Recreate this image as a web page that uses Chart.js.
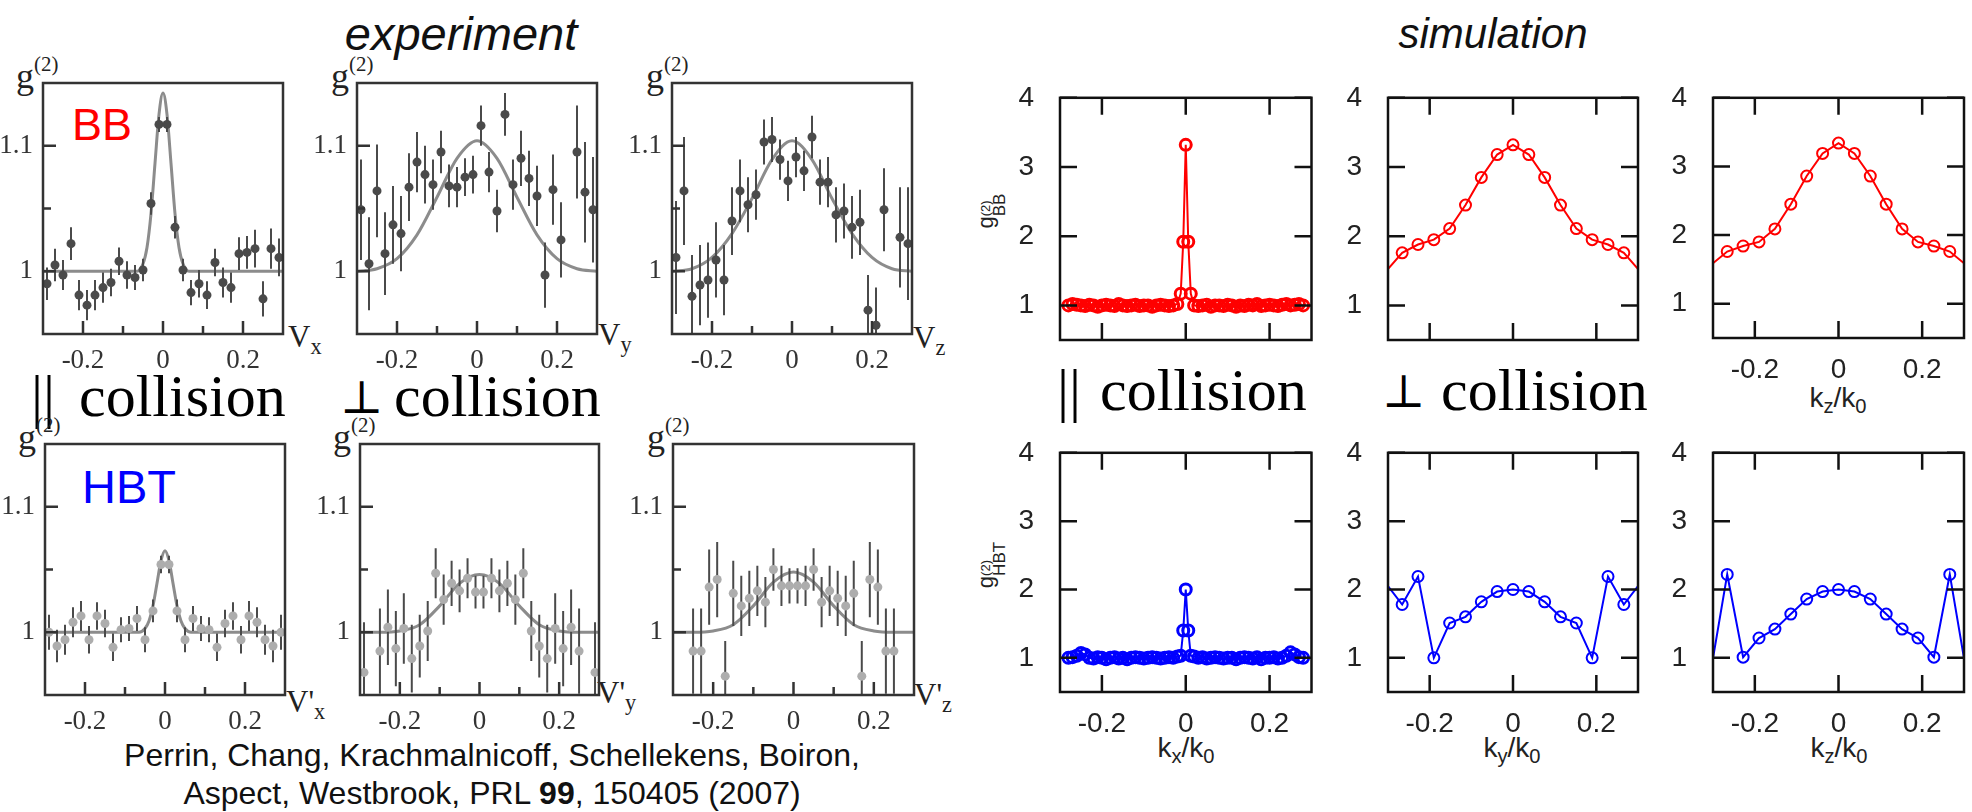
<!DOCTYPE html>
<html>
<head>
<meta charset="utf-8">
<script src="https://cdn.jsdelivr.net/npm/chart.js@4.4.0/dist/chart.umd.min.js"></script>
<style>
  html, body { margin: 0; padding: 0; background: #fff; }
  body { width: 1972px; height: 812px; position: relative; overflow: hidden; }
  canvas { position: absolute; }
  .t { position: absolute; white-space: nowrap; line-height: 1; }
  .serif { font-family: 'Liberation Serif', 'DejaVu Serif', serif; color: #222; }
  .sans { font-family: 'Liberation Sans', 'DejaVu Sans', sans-serif; color: #222; }
  .serif sup { font-size: 0.58em; vertical-align: 0.8em; line-height: 0; }
  .serif sub, .sans sub { font-size: 0.72em; vertical-align: -0.3em; line-height: 0; }
  .rot { transform: translate(-50%, -50%) rotate(-90deg); font-size: 22px; }
  .stack { display: inline-block; vertical-align: -0.55em; line-height: 0.95; }
  .stack span { display: block; }
  .perp { width: 40px; text-align: center; font-family: 'DejaVu Serif', serif; }
</style>
</head>
<body>

<div class="t sans" style="left:461px;top:10px;font-size:47px;font-style:italic;color:#111;transform:translateX(-50%)">experiment</div>
<div class="t sans" style="left:1493px;top:13px;font-size:42px;font-style:italic;color:#111;transform:translateX(-50%)">simulation</div>

<div class="t serif" style="left:31px;top:366px;font-size:60px;color:#000">||</div>
<div class="t serif" style="left:79px;top:366px;font-size:60px;color:#000">collision</div>
<div class="t perp" style="left:340px;top:374px;font-size:46px;color:#000">&#8869;</div>
<div class="t serif" style="left:394px;top:366px;font-size:60px;color:#000">collision</div>
<div class="t serif" style="left:1057px;top:360px;font-size:60px;color:#000">||</div>
<div class="t serif" style="left:1100px;top:360px;font-size:60px;color:#000">collision</div>
<div class="t perp" style="left:1382px;top:368px;font-size:46px;color:#000">&#8869;</div>
<div class="t serif" style="left:1441px;top:360px;font-size:60px;color:#000">collision</div>

<div class="t sans" style="left:72px;top:102px;font-size:45px;color:#ff0000">BB</div>
<div class="t sans" style="left:82px;top:463px;font-size:47px;color:#0000ff">HBT</div>

<div class="t serif" style="left:16px;top:58px;font-size:36px">g<sup>(2)</sup></div>
<div class="t serif" style="left:331px;top:58px;font-size:36px">g<sup>(2)</sup></div>
<div class="t serif" style="left:646px;top:58px;font-size:36px">g<sup>(2)</sup></div>
<div class="t serif" style="left:18px;top:419px;font-size:36px">g<sup>(2)</sup></div>
<div class="t serif" style="left:333px;top:419px;font-size:36px">g<sup>(2)</sup></div>
<div class="t serif" style="left:647px;top:419px;font-size:36px">g<sup>(2)</sup></div>

<div class="t serif" style="left:288px;top:321px;font-size:31px">V<sub>x</sub></div>
<div class="t serif" style="left:598px;top:319px;font-size:31px">V<sub>y</sub></div>
<div class="t serif" style="left:913px;top:322px;font-size:31px">V<sub>z</sub></div>
<div class="t serif" style="left:286px;top:686px;font-size:31px">V'<sub>x</sub></div>
<div class="t serif" style="left:597px;top:677px;font-size:31px">V'<sub>y</sub></div>
<div class="t serif" style="left:914px;top:679px;font-size:31px">V'<sub>z</sub></div>

<div class="t sans rot" style="left:992px;top:211px">g<span class="stack"><span style="font-size:13px">(2)</span><span style="font-size:17px">BB</span></span></div>
<div class="t sans rot" style="left:992px;top:565px">g<span class="stack"><span style="font-size:13px">(2)</span><span style="font-size:17px">HBT</span></span></div>

<div class="t sans" style="left:1838px;top:384px;font-size:28px;transform:translateX(-50%)">k<sub>z</sub>/k<sub>0</sub></div>
<div class="t sans" style="left:1186px;top:734px;font-size:28px;transform:translateX(-50%)">k<sub>x</sub>/k<sub>0</sub></div>
<div class="t sans" style="left:1512px;top:734px;font-size:28px;transform:translateX(-50%)">k<sub>y</sub>/k<sub>0</sub></div>
<div class="t sans" style="left:1839px;top:734px;font-size:28px;transform:translateX(-50%)">k<sub>z</sub>/k<sub>0</sub></div>

<div class="t sans" style="left:492px;top:736px;font-size:32px;line-height:38px;text-align:center;color:#111;transform:translateX(-50%)">Perrin, Chang, Krachmalnicoff, Schellekens, Boiron,<br>Aspect, Westbrook, PRL <b>99</b>, 150405 (2007)</div>

<script>
// experiment: bin centres (V) shared by all six panels
const expX = [-0.29, -0.27, -0.25, -0.23, -0.21, -0.19, -0.17, -0.15, -0.13, -0.11,
              -0.09, -0.07, -0.05, -0.03, -0.01, 0.01, 0.03, 0.05, 0.07, 0.09,
              0.11, 0.13, 0.15, 0.17, 0.19, 0.21, 0.23, 0.25, 0.27, 0.29];

// back-to-back (top row)
const bbVx = [0.990, 1.005, 0.997, 1.022, 0.981, 0.973, 0.981, 0.987, 0.991, 1.008,
              0.997, 0.995, 1.001, 1.054, 1.117, 1.117, 1.035, 1.001, 0.983, 0.990,
              0.981, 1.007, 0.991, 0.987, 1.014, 1.015, 1.018, 0.978, 1.018, 1.011];
const bbVxErr = [0.013, 0.013, 0.012, 0.013, 0.012, 0.012, 0.012, 0.012, 0.011, 0.011,
                 0.011, 0.010, 0.009, 0.009, 0.006, 0.006, 0.009, 0.009, 0.010, 0.011,
                 0.011, 0.011, 0.012, 0.012, 0.013, 0.013, 0.015, 0.014, 0.016, 0.015];
const bbVy = [1.049, 1.006, 1.064, 1.014, 1.037, 1.030, 1.067, 1.087, 1.077, 1.069,
              1.095, 1.068, 1.067, 1.075, 1.077, 1.116, 1.079, 1.048, 1.125, 1.069,
              1.090, 1.074, 1.060, 0.997, 1.065, 1.025, null, 1.095, 1.063, 1.049];
const bbVyErr = [0.040, 0.037, 0.037, 0.033, 0.031, 0.030, 0.027, 0.024, 0.023, 0.020,
                 0.017, 0.017, 0.016, 0.015, 0.015, 0.016, 0.016, 0.017, 0.017, 0.020,
                 0.022, 0.022, 0.024, 0.026, 0.028, 0.030, null, 0.037, 0.040, 0.042];
const bbVz = [1.011, 1.064, 0.980, 0.989, 0.993, 1.009, 0.993, 1.040, 1.064, 1.053,
              1.061, 1.103, 1.105, 1.089, 1.072, 1.091, 1.080, 1.107, 1.071, 1.071,
              1.045, 1.048, 1.035, 1.039, 0.969, 0.957, 1.049, null, 1.027, 1.022];
const bbVzErr = [0.045, 0.043, 0.033, 0.032, 0.030, 0.030, 0.028, 0.027, 0.025, 0.022,
                 0.020, 0.018, 0.018, 0.016, 0.016, 0.016, 0.016, 0.017, 0.018, 0.020,
                 0.022, 0.022, 0.025, 0.026, 0.028, 0.030, 0.033, null, 0.040, 0.045];

// collinear / HBT (bottom row)
const hbtVx = [1.000, 0.989, 0.994, 1.008, 1.013, 0.994, 1.013, 1.007, 0.988, 1.002,
               1.003, 1.011, 0.994, 1.017, 1.054, 1.054, 1.017, 0.994, 1.011, 1.003,
               1.002, 0.988, 1.007, 1.013, 0.994, 1.013, 1.008, 0.994, 0.989, 1.000];
const hbtVxErr = [0.014, 0.013, 0.012, 0.012, 0.012, 0.011, 0.011, 0.011, 0.011, 0.010,
                  0.010, 0.010, 0.010, 0.009, 0.007, 0.007, 0.009, 0.010, 0.010, 0.010,
                  0.010, 0.011, 0.011, 0.011, 0.011, 0.012, 0.012, 0.012, 0.013, 0.014];
const hbtVy = [0.968, null, 0.985, 1.004, 0.987, 1.003, 0.979, 0.989, 1.001, 1.047,
               1.026, 1.039, 1.033, 1.043, 1.032, 1.032, 1.043, 1.033, 1.039, 1.026,
               1.047, 1.001, 0.989, 0.979, 1.003, 0.987, 1.004, 0.985, null, 0.968];
const hbtVyErr = [0.040, null, 0.034, 0.030, 0.030, 0.028, 0.027, 0.025, 0.024, 0.020,
                  0.020, 0.018, 0.017, 0.016, 0.013, 0.013, 0.016, 0.017, 0.018, 0.020,
                  0.020, 0.024, 0.025, 0.027, 0.028, 0.030, 0.030, 0.034, null, 0.040];
const hbtVz = [null, null, 0.985, 0.985, 1.036, 1.042, 0.965, 1.031, 1.021, 1.027,
               1.033, 1.024, 1.050, 1.037, 1.037, 1.037, 1.037, 1.050, 1.024, 1.033,
               1.027, 1.021, 1.031, 0.965, 1.042, 1.036, 0.985, 0.985, null, null];
const hbtVzErr = [null, null, 0.034, 0.034, 0.030, 0.030, 0.028, 0.026, 0.024, 0.022,
                  0.020, 0.020, 0.017, 0.016, 0.014, 0.014, 0.016, 0.017, 0.020, 0.020,
                  0.022, 0.024, 0.026, 0.028, 0.030, 0.030, 0.034, 0.034, null, null];

// fitted curves
const fitNarrowX = [-0.3, -0.065, -0.05, -0.04, -0.03, -0.02, -0.01, 0, 0.01, 0.02, 0.03, 0.04, 0.05, 0.065, 0.3];
const fitBBx  = [1, 1, 1.006, 1.019, 1.046, 1.086, 1.125, 1.142, 1.125, 1.086, 1.046, 1.019, 1.006, 1, 1];
const fitHBTx = [1, 1, 1.003, 1.009, 1.021, 1.039, 1.057, 1.065, 1.057, 1.039, 1.021, 1.009, 1.003, 1, 1];
const fitWideX = [-0.3, -0.25, -0.2, -0.15, -0.1, -0.05, 0, 0.05, 0.1, 0.15, 0.2, 0.25, 0.3];
const fitBBy  = [1, 1.002, 1.010, 1.029, 1.059, 1.090, 1.104, 1.090, 1.059, 1.029, 1.010, 1.002, 1];
const fitBBz  = [1, 1.002, 1.011, 1.030, 1.058, 1.089, 1.104, 1.089, 1.058, 1.030, 1.011, 1.002, 1];
const fitHBTy = [1, 1, 1.001, 1.006, 1.021, 1.039, 1.046, 1.039, 1.021, 1.006, 1.001, 1, 1];
const fitHBTz = [1, 1, 1.001, 1.006, 1.021, 1.040, 1.048, 1.040, 1.021, 1.006, 1.001, 1, 1];

// simulation
const kxX = [-0.28, -0.27, -0.26, -0.25, -0.24, -0.23, -0.22, -0.21, -0.2, -0.19, -0.18, -0.17, -0.16, -0.15,
             -0.14, -0.13, -0.12, -0.11, -0.1, -0.09, -0.08, -0.07, -0.06, -0.05, -0.04, -0.03, -0.02,
             -0.012, -0.006, 0, 0.006, 0.012,
             0.02, 0.03, 0.04, 0.05, 0.06, 0.07, 0.08, 0.09, 0.1, 0.11, 0.12, 0.13, 0.14,
             0.15, 0.16, 0.17, 0.18, 0.19, 0.2, 0.21, 0.22, 0.23, 0.24, 0.25, 0.26, 0.27, 0.28];
const bbKx = [1.0, 1.02, 1.01, 1.0, 0.99, 1.01, 1.0, 0.98, 1.0, 1.01, 1.0, 0.99, 1.02, 1.0,
              0.99, 1.0, 1.01, 0.99, 1.0, 1.0, 0.98, 1.0, 1.01, 1.0, 0.99, 1.0, 1.02,
              1.17, 1.92, 3.32, 1.92, 1.17,
              1.0, 0.99, 1.0, 1.01, 0.98, 1.0, 1.0, 0.99, 1.01, 1.0, 0.98, 1.0, 0.99,
              1.01, 1.0, 1.02, 0.99, 1.0, 1.01, 1.0, 0.99, 1.01, 1.02, 1.0, 1.01, 1.02, 1.0];
const hbtKx = [1.0, 1.01, 1.03, 1.07, 1.05, 1.0, 0.99, 1.01, 1.0, 0.98, 1.0, 1.01, 0.99, 1.0,
               0.98, 1.0, 1.01, 1.0, 0.99, 1.0, 1.01, 1.0, 0.99, 1.0, 1.01, 1.0, 1.02,
               1.03, 1.40, 2.0, 1.40, 1.03,
               1.02, 1.0, 1.01, 0.99, 1.0, 1.01, 1.0, 0.99, 1.0, 1.0, 0.98, 1.0, 1.01,
               1.0, 0.99, 1.01, 0.98, 1.0, 1.0, 1.01, 0.99, 1.0, 1.03, 1.08, 1.05, 1.01, 1.0];
const kX = [-0.304, -0.266, -0.228, -0.19, -0.152, -0.114, -0.076, -0.038, 0,
            0.038, 0.076, 0.114, 0.152, 0.19, 0.228, 0.266, 0.304];
const bbKy  = [1.50, 1.76, 1.88, 1.95, 2.11, 2.45, 2.85, 3.18, 3.32, 3.18, 2.85, 2.45, 2.11, 1.95, 1.88, 1.76, 1.50];
const bbKz  = [1.57, 1.76, 1.84, 1.90, 2.09, 2.45, 2.86, 3.19, 3.34, 3.19, 2.86, 2.45, 2.09, 1.90, 1.84, 1.76, 1.57];
const hbtKy = [2.08, 1.78, 2.19, 1.00, 1.51, 1.60, 1.82, 1.97, 2.00, 1.97, 1.82, 1.60, 1.51, 1.00, 2.19, 1.78, 2.08];
const hbtKz = [0.85, 2.22, 1.01, 1.29, 1.42, 1.64, 1.86, 1.97, 2.00, 1.97, 1.86, 1.64, 1.42, 1.29, 1.01, 2.22, 0.85];

// ticks
const expXTicks = [-0.2, -0.1, 0, 0.1, 0.2];
const expXLabelled = [-0.2, 0, 0.2];
const expYTicks = [1, 1.05, 1.1];
const expYLabelled = [1, 1.1];
const simXTicks = [-0.2, 0, 0.2];
const simYTicks = [1, 2, 3, 4];

const PAD_T = 20, PAD_R = 8;
const SERIF = "'Liberation Serif', 'DejaVu Serif', serif";
const SANS = "'Liberation Sans', 'DejaVu Sans', sans-serif";

// inward ticks + closed frame, drawn from the chart's own scales
const frameTicks = {
  id: 'frameTicks',
  afterDatasetsDraw(chart, args, o) {
    const { ctx, chartArea: a } = chart;
    const sx = chart.scales.x, sy = chart.scales.y;
    ctx.save();
    ctx.strokeStyle = o.color;
    ctx.lineWidth = o.width;
    ctx.beginPath();
    sx.ticks.forEach(t => {
      const p = sx.getPixelForValue(t.value);
      const l = o.xMajor.includes(t.value) ? o.len : o.minorLen;
      ctx.moveTo(p, a.bottom); ctx.lineTo(p, a.bottom - l);
      if (o.mirror) { ctx.moveTo(p, a.top); ctx.lineTo(p, a.top + l); }
    });
    sy.ticks.forEach(t => {
      const p = sy.getPixelForValue(t.value);
      const l = o.yMajor.includes(t.value) ? o.len : o.minorLen;
      ctx.moveTo(a.left, p); ctx.lineTo(a.left + l, p);
      if (o.mirror) { ctx.moveTo(a.right, p); ctx.lineTo(a.right - l, p); }
    });
    ctx.stroke();
    ctx.strokeRect(a.left, a.top, a.right - a.left, a.bottom - a.top);
    ctx.restore();
  }
};

function addCanvas(box, yW, xH) {
  const c = document.createElement('canvas');
  const w = box[2] - box[0] + yW + PAD_R;
  const h = box[3] - box[1] + PAD_T + xH;
  c.width = w; c.height = h;
  c.style.width = w + 'px'; c.style.height = h + 'px';
  c.style.left = (box[0] - yW) + 'px';
  c.style.top = (box[1] - PAD_T) + 'px';
  document.body.appendChild(c);
  return c;
}

function fmt(v) { return v === 0 ? '0' : String(v); }

function expChart(box, vals, errs, fitX, fitY, dotColor) {
  const yW = 42, xH = 36;
  const canvas = addCanvas(box, yW, xH);
  const pts = [], bars = [];
  expX.forEach((x, i) => {
    if (vals[i] === null) return;
    pts.push({ x, y: vals[i] });
    bars.push({ x, y: vals[i] - errs[i] }, { x, y: vals[i] + errs[i] }, { x, y: null });
  });
  const fit = fitX.map((x, i) => ({ x, y: fitY[i] }));
  new Chart(canvas, {
    type: 'scatter',
    data: {
      datasets: [
        { data: pts, pointRadius: 4.5, pointBackgroundColor: dotColor, pointBorderWidth: 0, order: 0 },
        { data: bars, showLine: true, spanGaps: false, borderColor: '#4a4a4a', borderWidth: 2, pointRadius: 0, order: 1 },
        { data: fit, showLine: true, borderColor: '#8c8c8c', borderWidth: 3, pointRadius: 0, cubicInterpolationMode: 'monotone', order: 2 }
      ]
    },
    options: {
      responsive: false, animation: false, devicePixelRatio: 1,
      layout: { padding: { top: PAD_T, right: PAD_R, left: 0, bottom: 0 } },
      plugins: {
        legend: { display: false }, tooltip: { enabled: false },
        frameTicks: { color: '#333', width: 2.5, len: 13, minorLen: 8, xMajor: expXLabelled, yMajor: expYLabelled, mirror: false }
      },
      scales: {
        x: {
          type: 'linear', min: -0.3, max: 0.3,
          afterBuildTicks: s => { s.ticks = expXTicks.map(v => ({ value: v })); },
          afterFit: s => { s.height = xH; },
          grid: { display: false }, border: { display: false },
          ticks: { autoSkip: false, maxRotation: 0, padding: 3, color: '#333', font: { family: SERIF, size: 27 },
                   callback: v => expXLabelled.includes(v) ? fmt(v) : '' }
        },
        y: {
          min: 0.95, max: 1.15,
          afterBuildTicks: s => { s.ticks = expYTicks.map(v => ({ value: v })); },
          afterFit: s => { s.width = yW; },
          grid: { display: false }, border: { display: false },
          ticks: { autoSkip: false, padding: 2, color: '#333', font: { family: SERIF, size: 27 },
                   callback: v => expYLabelled.includes(v) ? fmt(v) : '' }
        }
      }
    },
    plugins: [frameTicks]
  });
}

function simChart(box, xs, ys, color, showXLabels, markerWidth) {
  const yW = 48, xH = 46;
  const canvas = addCanvas(box, yW, xH);
  new Chart(canvas, {
    type: 'scatter',
    data: {
      datasets: [{
        data: xs.map((x, i) => ({ x, y: ys[i] })),
        showLine: true, borderColor: color, borderWidth: 2,
        pointRadius: c => Math.abs(c.raw.x) > 0.3 ? 0 : 5.5,
        pointBorderColor: color, pointBackgroundColor: 'rgba(0,0,0,0)', pointBorderWidth: markerWidth
      }]
    },
    options: {
      responsive: false, animation: false, devicePixelRatio: 1,
      layout: { padding: { top: PAD_T, right: PAD_R, left: 0, bottom: 0 } },
      plugins: {
        legend: { display: false }, tooltip: { enabled: false },
        frameTicks: { color: '#111', width: 2.5, len: 17, minorLen: 17, xMajor: simXTicks, yMajor: simYTicks, mirror: true }
      },
      scales: {
        x: {
          type: 'linear', min: -0.3, max: 0.3,
          afterBuildTicks: s => { s.ticks = simXTicks.map(v => ({ value: v })); },
          afterFit: s => { s.height = xH; },
          grid: { display: false }, border: { display: false },
          ticks: { autoSkip: false, maxRotation: 0, padding: 7, color: '#222', font: { family: SANS, size: 28 },
                   callback: v => showXLabels ? fmt(v) : '' }
        },
        y: {
          min: 0.5, max: 4,
          afterBuildTicks: s => { s.ticks = simYTicks.map(v => ({ value: v })); },
          afterFit: s => { s.width = yW; },
          grid: { display: false }, border: { display: false },
          ticks: { autoSkip: false, padding: 18, color: '#222', font: { family: SANS, size: 28 }, callback: v => fmt(v) }
        }
      }
    },
    plugins: [frameTicks]
  });
}

expChart([43, 83, 283, 334], bbVx, bbVxErr, fitNarrowX, fitBBx, '#4a4a4a');
expChart([357, 83, 597, 334], bbVy, bbVyErr, fitWideX, fitBBy, '#4a4a4a');
expChart([672, 83, 912, 334], bbVz, bbVzErr, fitWideX, fitBBz, '#4a4a4a');
expChart([45, 444, 285, 695], hbtVx, hbtVxErr, fitNarrowX, fitHBTx, '#adadad');
expChart([360, 444, 599, 695], hbtVy, hbtVyErr, fitWideX, fitHBTy, '#adadad');
expChart([673, 444, 914, 695], hbtVz, hbtVzErr, fitWideX, fitHBTz, '#adadad');

simChart([1060, 83, 1312, 340], kxX, bbKx, '#ff0000', false, 3);
simChart([1388, 83, 1638, 340], kX, bbKy, '#ff0000', false, 2);
simChart([1713, 83, 1964, 338], kX, bbKz, '#ff0000', true, 2);
simChart([1060, 438, 1312, 692], kxX, hbtKx, '#0000ff', true, 3);
simChart([1388, 438, 1638, 692], kX, hbtKy, '#0000ff', true, 2);
simChart([1713, 438, 1964, 692], kX, hbtKz, '#0000ff', true, 2);
</script>
</body>
</html>
